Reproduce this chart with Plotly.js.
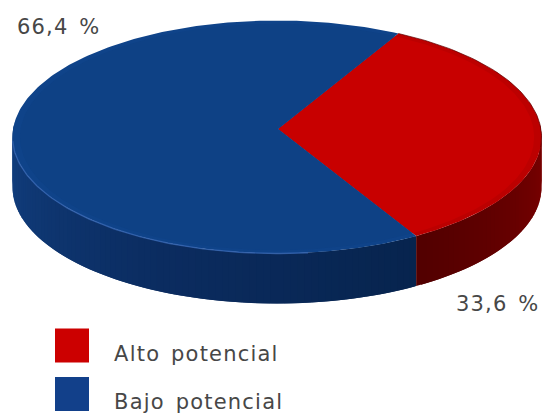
<!DOCTYPE html>
<html>
<head>
<meta charset="utf-8">
<script src="https://cdn.plot.ly/plotly-3.0.1.min.js"></script>
<style>
html,body{margin:0;padding:0;background:#fff}
#chart{width:544px;height:414px}
#chart .annotation-text{letter-spacing:1.2px;word-spacing:3px}
</style>
</head>
<body>
<div id="chart"></div>
<script>
// Share of each group, in percent
const categories = ['Alto potencial', 'Bajo potencial'];
const shares = [33.6, 66.4];
const faceColors = ['#c80000', '#0e4185'];
const bevelColors = ['#bc0000', '#0f4389'];

// Disc geometry in canvas units (y grows downward)
const disc = {cx: 277, cy: 137, rx: 264.5, ry: 116.5, depth: 50, apexX: 278, apexY: 129};
const firstSliceStart = -62.7;   // parametric angle where the first slice begins

const rad = d => d * Math.PI / 180;
const px = (t, k = 1) => disc.cx + disc.rx * k * Math.cos(rad(t));
const py = (t, k = 1, dy = 0) => disc.cy + disc.ry * k * Math.sin(rad(t)) + dy;
const arcAngles = (a, b, step = 1) => {
  const out = [];
  for (let t = a; t < b; t += step) out.push(t);
  out.push(b);
  return out;
};
const mix = (c1, c2, f) => 'rgb(' + c1.map((v, i) => Math.round(v + (c2[i] - v) * f)).join(',') + ')';

// Slice boundaries derived from the shares
const total = shares.reduce((s, v) => s + v, 0);
const bounds = [firstSliceStart];
shares.forEach(v => bounds.push(bounds[bounds.length - 1] + v / total * 360));

const polygon = (xs, ys, color) => ({
  x: xs, y: ys, type: 'scatter', mode: 'lines', fill: 'toself', fillcolor: color,
  line: {width: 0}, hoverinfo: 'skip', showlegend: false
});

const traces = [];

// Outer wall, painted in overlapping bands so the shading varies smoothly around the rim
function wallColor(t) {
  if (t < 115) return mix([7, 36, 78], [11, 44, 96], (t - bounds[1]) / (115 - bounds[1]));
  return mix([11, 44, 96], [17, 62, 126], (t - 115) / 65);
}
function redWallColor(t) {
  return mix([122, 0, 0], [82, 0, 0], Math.max(t, 0) / bounds[1]);
}
const wallBand = (a, b, color) => {
  const arc = arcAngles(a, b, 0.5);
  const xs = arc.map(t => px(t)), yTop = arc.map(t => py(t));
  const yBottom = arc.map(t => py(t, 1, disc.depth));
  traces.push(polygon(xs.concat(xs.slice().reverse()), yTop.concat(yBottom.reverse()), color));
};
const wallStep = 1.5;
// Blue wall, from the left end of the disc toward the slice boundary
for (let t = 186; t > bounds[1]; t -= wallStep) {
  wallBand(Math.max(bounds[1], t - wallStep), t + wallStep, wallColor(t));
}
// Red wall, from the right end of the disc toward the same boundary
for (let t = -6; t < bounds[1]; t += wallStep) {
  wallBand(t - wallStep, Math.min(bounds[1], t + wallStep), redWallColor(t));
}

// Top face of every slice, with a slightly different bevel band along the rim
shares.forEach((v, i) => {
  const arc = arcAngles(bounds[i], bounds[i + 1]);
  traces.push(polygon(
    [disc.apexX].concat(arc.map(a => px(a)), [disc.apexX]),
    [disc.apexY].concat(arc.map(a => py(a)), [disc.apexY]),
    bevelColors[i]));
  traces.push(polygon(
    [disc.apexX].concat(arc.map(a => px(a, 0.972)), [disc.apexX]),
    [disc.apexY].concat(arc.map(a => py(a, 0.972)), [disc.apexY]),
    faceColors[i]));
});

// Light catching the front edge of the larger slice
const edgeArc = arcAngles(bounds[1] + 25, 178);
traces.push({
  x: edgeArc.map(a => px(a)), y: edgeArc.map(a => py(a)),
  type: 'scatter', mode: 'lines', line: {color: 'rgba(52,100,176,0.8)', width: 1.4},
  hoverinfo: 'skip', showlegend: false
});

// Dark outline along the back of the red slice
const backArc = arcAngles(bounds[0], 5);
traces.push({
  x: backArc.map(a => px(a)), y: backArc.map(a => py(a)),
  type: 'scatter', mode: 'lines', line: {color: 'rgba(96,0,0,0.7)', width: 1},
  hoverinfo: 'skip', showlegend: false
});

// Legend keys
traces.push({
  x: [72, 72], y: [345.5, 394], type: 'scatter', mode: 'markers',
  marker: {symbol: 'square', size: 34, color: ['#cc0000', '#12408a']},
  hoverinfo: 'skip', showlegend: false
});

const textFont = {family: 'DejaVu Sans, Verdana, sans-serif', size: 21, color: '#474747'};
const percentText = v => v.toFixed(1).replace('.', ',') + ' %';
const note = (text, x, y) => ({
  text: text, x: x, y: y, xref: 'x', yref: 'y', xanchor: 'left', yanchor: 'middle',
  showarrow: false, font: textFont
});

const annotations = [
  note(percentText(shares[1]), 20, 27),
  note(percentText(shares[0]), 459, 304),
  note(categories[0], 122, 354),
  note(categories[1], 122, 402)
];

Plotly.newPlot('chart', traces, {
  width: 544, height: 414,
  margin: {l: 0, r: 0, t: 0, b: 0, pad: 0},
  paper_bgcolor: '#ffffff', plot_bgcolor: '#ffffff',
  xaxis: {range: [0, 544], visible: false, fixedrange: true},
  yaxis: {range: [414, 0], visible: false, fixedrange: true},
  showlegend: false,
  annotations: annotations
}, {displayModeBar: false, staticPlot: true});
</script>
</body>
</html>
